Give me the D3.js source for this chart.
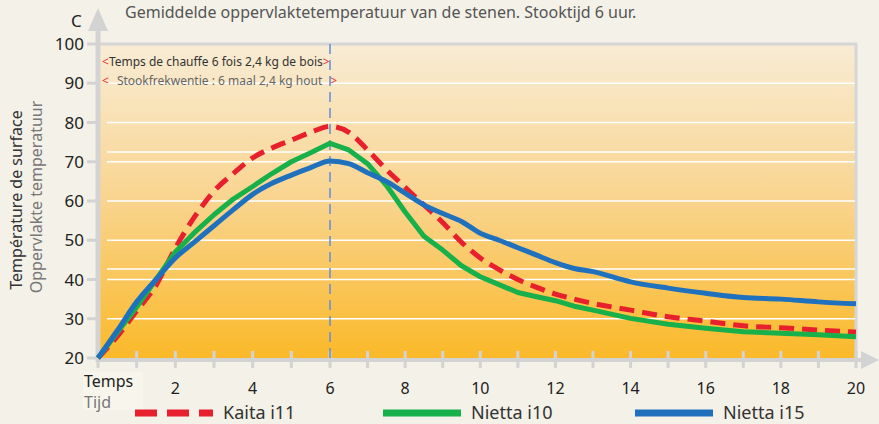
<!DOCTYPE html>
<html>
<head>
<meta charset="utf-8">
<script src="https://cdn.jsdelivr.net/npm/d3@7"></script>
<style>
  body { margin: 0; background: #f4f1e8; }
  svg { display: block; font-family: "Noto Sans", sans-serif; }
</style>
</head>
<body>
<div id="chart"></div>
<script>
// hours since first firing
const hours = [0, 0.5, 1, 1.5, 2, 2.5, 3, 3.5, 4, 4.5, 5, 5.5, 6, 6.5, 7, 7.5, 8, 8.5, 9, 9.5,
  10, 10.5, 11, 11.5, 12, 12.5, 13, 14, 15, 16, 17, 18, 19, 20];

// surface temperature (C)
const kaitaI11 = [20, 25.5, 32, 38.5, 48, 56, 62.5, 67, 71, 73.5, 75.5, 77.5, 79, 77.5, 73, 68, 63.5, 59, 54.5, 49.5,
  45.5, 42.5, 40, 38, 36.3, 35, 33.9, 32.2, 30.5, 29.4, 28.2, 27.7, 27.1, 26.6];
const niettaI10 = [20, 26.5, 33, 40, 47, 52, 56.5, 60.5, 63.7, 67, 70, 72.3, 74.7, 73, 69.5, 64, 57.2, 51, 47.5, 43.5,
  40.7, 38.7, 36.7, 35.6, 34.6, 33.2, 32.2, 30.1, 28.6, 27.6, 26.7, 26.3, 25.9, 25.4];
const niettaI15 = [20, 27, 34.3, 40, 45.5, 49.6, 53.7, 57.8, 61.7, 64.5, 66.6, 68.5, 70.2, 69.5, 67.2, 65, 62, 59, 56.8, 54.8,
  51.8, 50, 48.1, 46.2, 44.3, 42.8, 42, 39.4, 37.8, 36.5, 35.4, 35, 34.3, 33.8];

const xTickLabels = [2, 4, 6, 8, 10, 12, 14, 16, 18, 20];
const xTickMarks = d3.range(0, 21);
const yTicks = [20, 30, 40, 50, 60, 70, 80, 90, 100];
const extraGrid = [72.5, 42.7];
const fireEnd = 6;

const series = [
  { name: "Kaita i11", values: kaitaI11, color: "#e8202e", dash: "15,8", curve: d3.curveMonotoneX },
  { name: "Nietta i10", values: niettaI10, color: "#17b04b", dash: null, curve: d3.curveLinear },
  { name: "Nietta i15", values: niettaI15, color: "#1f70bd", dash: null, curve: d3.curveMonotoneX }
];

const width = 879, height = 424;
const plot = { left: 98, right: 856, top: 44, bottom: 358 };

const svg = d3.select("#chart").append("svg")
  .attr("width", width)
  .attr("height", height);

const x = d3.scaleLinear().domain([0, 6, 20]).range([plot.left, 330, plot.right]);
const y = d3.scaleLinear().domain([20, 100]).range([plot.bottom, plot.top]);

// background gradient of the plot
const grad = svg.append("defs").append("linearGradient")
  .attr("id", "bg").attr("x1", 0).attr("y1", 0).attr("x2", 0).attr("y2", 1);
grad.append("stop").attr("offset", "0%").attr("stop-color", "#f8ecd5");
grad.append("stop").attr("offset", "50%").attr("stop-color", "#f9d48e");
grad.append("stop").attr("offset", "100%").attr("stop-color", "#fbb929");

svg.append("rect")
  .attr("x", plot.left).attr("y", plot.top)
  .attr("width", plot.right - plot.left).attr("height", plot.bottom - plot.top)
  .attr("fill", "url(#bg)");

// frame top and right
svg.append("path")
  .attr("d", `M${plot.left},${y(100)}H${plot.right}V${plot.bottom}`)
  .attr("fill", "none").attr("stroke", "#d6d6d6").attr("stroke-width", 3);

// white grid lines
svg.append("g").selectAll("line")
  .data(yTicks.filter(d => d > 20 && d < 100).concat(extraGrid))
  .join("line")
    .attr("x1", plot.left + 9).attr("x2", plot.right - 1)
    .attr("y1", d => y(d)).attr("y2", d => y(d))
    .attr("stroke", "#fff").attr("stroke-width", 1.5);

// y axis: gray tick marks + labels
const yAxis = svg.append("g");
yAxis.selectAll("line")
  .data(yTicks)
  .join("line")
    .attr("x1", 87).attr("x2", plot.left)
    .attr("y1", d => y(d)).attr("y2", d => y(d))
    .attr("stroke", "#d3d3d3").attr("stroke-width", 3);
yAxis.selectAll("text")
  .data(yTicks)
  .join("text")
    .attr("x", 84).attr("y", d => y(d) + 6)
    .attr("text-anchor", "end")
    .attr("font-size", 17).attr("fill", "#222")
    .text(d => d);

// x axis tick marks + labels
const xAxis = svg.append("g");
xAxis.selectAll("line")
  .data(xTickMarks)
  .join("line")
    .attr("x1", d => x(d)).attr("x2", d => x(d))
    .attr("y1", 351).attr("y2", 368)
    .attr("stroke", "#d3d3d3").attr("stroke-width", 3);
xAxis.selectAll("text")
  .data(xTickLabels)
  .join("text")
    .attr("x", d => x(d)).attr("y", 394)
    .attr("text-anchor", "middle")
    .attr("font-size", 16).attr("fill", "#222")
    .text(d => d);

// axis lines with arrows
svg.append("line")
  .attr("x1", plot.left).attr("x2", plot.left).attr("y1", 28).attr("y2", 362)
  .attr("stroke", "#d3d3d3").attr("stroke-width", 5);
svg.append("path")
  .attr("d", `M${plot.left},8L${plot.left + 10},31L${plot.left - 10},31Z`)
  .attr("fill", "#d3d3d3");
svg.append("line")
  .attr("x1", plot.left - 2).attr("x2", 864).attr("y1", 360).attr("y2", 360)
  .attr("stroke", "#d3d3d3").attr("stroke-width", 4);
svg.append("path")
  .attr("d", "M879,360L861,351L861,369Z")
  .attr("fill", "#d3d3d3");

// end of firing marker
svg.append("line")
  .attr("x1", x(fireEnd)).attr("x2", x(fireEnd))
  .attr("y1", plot.top).attr("y2", 360)
  .attr("stroke", "#5f8fdc").attr("stroke-width", 1.5)
  .attr("stroke-dasharray", "10,6");

// annotations
const note1 = svg.append("text").attr("x", 102).attr("y", 66).attr("font-size", 12).attr("fill", "#333");
note1.append("tspan").attr("fill", "#e8303a").text("<");
note1.append("tspan").text("Temps de chauffe 6 fois 2,4 kg de bois");
note1.append("tspan").attr("fill", "#e8303a").text(">");

const note2 = svg.append("text").attr("x", 102).attr("y", 85).attr("font-size", 12).attr("fill", "#666");
note2.append("tspan").attr("fill", "#e8303a").text("<");
note2.append("tspan").attr("dx", 8).text("Stookfrekwentie : 6 maal 2,4 kg hout");
note2.append("tspan").attr("dx", 8).attr("fill", "#e8303a").text(">");

// series lines
series.forEach(s => {
  const line = d3.line()
    .x((d, i) => x(hours[i]))
    .y(d => y(d))
    .curve(s.curve);
  svg.append("path")
    .datum(s.values)
    .attr("d", line)
    .attr("fill", "none")
    .attr("stroke", s.color)
    .attr("stroke-width", 5)
    .attr("stroke-dasharray", s.dash)
    .attr("stroke-linejoin", "round");
});

// titles
svg.append("text")
  .attr("x", 125).attr("y", 18)
  .attr("font-size", 16).attr("fill", "#555")
  .text("Gemiddelde oppervlaktetemperatuur van de stenen. Stooktijd 6 uur.");
svg.append("text")
  .attr("x", 71).attr("y", 27)
  .attr("font-size", 17).attr("fill", "#222")
  .text("C");
svg.append("text")
  .attr("transform", "translate(22,200) rotate(-90)")
  .attr("text-anchor", "middle")
  .attr("font-size", 16).attr("fill", "#333")
  .text("Température de surface");
svg.append("text")
  .attr("transform", "translate(42,197) rotate(-90)")
  .attr("text-anchor", "middle")
  .attr("font-size", 16).attr("fill", "#777")
  .text("Oppervlakte temperatuur");

// Temps / Tijd box
svg.append("rect")
  .attr("x", 83).attr("y", 372).attr("width", 60).attr("height", 38)
  .attr("fill", "#f8f6ec");
svg.append("text").attr("x", 84).attr("y", 387)
  .attr("font-size", 16).attr("fill", "#222").text("Temps");
svg.append("text").attr("x", 84).attr("y", 408)
  .attr("font-size", 16).attr("fill", "#777").text("Tijd");

// legend
const legendX = [135, 383, 635];
const legend = svg.append("g").selectAll("g")
  .data(series)
  .join("g")
    .attr("transform", (d, i) => `translate(${legendX[i]},413)`);
legend.append("line")
  .attr("x1", 0).attr("x2", 78)
  .attr("stroke", d => d.color)
  .attr("stroke-width", 7)
  .attr("stroke-dasharray", d => d.dash ? "22,10" : null);
legend.append("text")
  .attr("x", 88).attr("y", 6)
  .attr("font-size", 18).attr("fill", "#333")
  .text(d => d.name);
</script>
</body>
</html>
